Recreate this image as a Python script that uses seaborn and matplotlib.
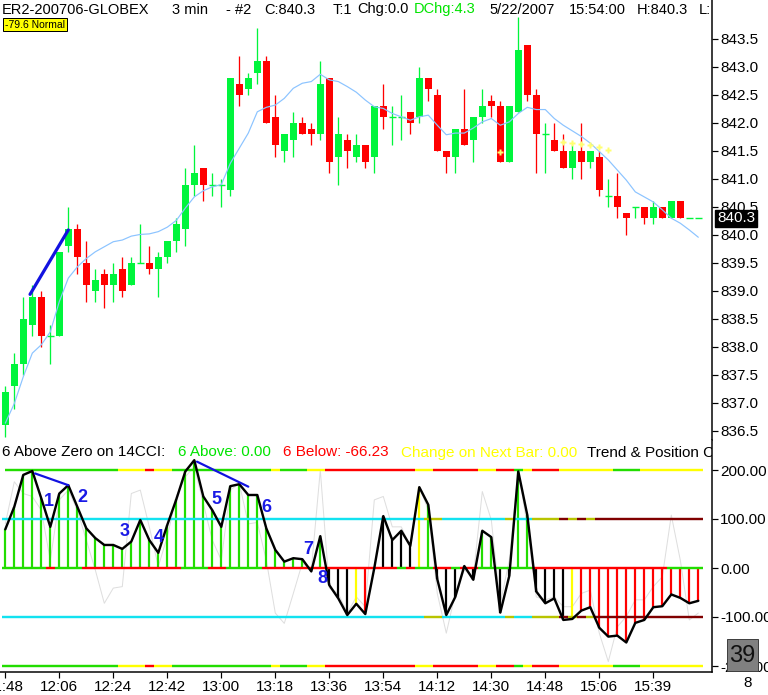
import numpy as np
import pandas as pd
import matplotlib
matplotlib.use("Agg")
import matplotlib.pyplot as plt
import seaborn as sns
from matplotlib.collections import LineCollection
from matplotlib.patches import Rectangle

# ---------------- data ----------------
time_labels = ["11:48", "12:06", "12:24", "12:42", "13:00", "13:18", "13:36",
               "13:54", "14:12", "14:30", "14:48", "15:06", "15:39"]
tick_bars = [0, 6, 12, 18, 24, 30, 36, 42, 48, 54, 60, 66, 72]

opens = [836.6, 837.3, 837.7, 838.4, 838.9, 838.2, 838.2, 839.8, 840.1, 839.5,
         839.0, 839.3, 839.1, 839.4, 839.1, 839.5, 839.5, 839.4, 839.6, 839.9,
         840.1, 840.9, 841.2, 840.9, 840.9, 840.8, 842.7, 842.6, 842.9, 843.1,
         842.1, 841.5, 841.7, 842.0, 841.9, 841.8, 842.8, 841.4, 841.7, 841.4,
         841.6, 841.4, 842.3, 842.1, 842.1, 842.2, 842.1, 842.8, 842.5, 841.5,
         841.4, 841.9, 841.7, 842.1, 842.4, 842.3, 841.3, 842.2, 843.4, 842.5,
         841.8, 841.7, 841.5, 841.2, 841.5, 841.3, 841.4, 840.7, 840.7, 840.4,
         840.5, 840.5, 840.3, 840.5, 840.3, 840.6, 840.3, 840.3]
highs = [837.3, 837.9, 838.9, 839.1, 839.0, 838.4, 839.7, 840.5, 840.2, 839.9,
         839.4, 839.4, 839.5, 839.6, 839.6, 840.2, 839.8, 839.7, 839.9, 840.3,
         841.2, 841.6, 841.2, 841.1, 841.0, 842.8, 843.2, 842.9, 843.7, 843.2,
         842.5, 841.8, 842.2, 842.1, 842.0, 843.1, 842.8, 842.1, 841.8, 841.8,
         841.6, 842.3, 842.7, 842.3, 842.5, 842.2, 843.0, 842.8, 842.6, 841.5,
         841.9, 842.6, 842.1, 842.6, 842.5, 842.4, 842.3, 843.9, 843.4, 842.6,
         842.0, 842.0, 841.8, 841.6, 842.0, 841.5, 841.5, 841.0, 841.1, 840.4,
         840.5, 840.5, 840.6, 840.5, 840.6, 840.6, 840.3, 840.3]
lows = [836.4, 836.9, 837.5, 838.2, 838.0, 837.7, 838.2, 839.7, 839.3, 838.8,
        838.8, 838.7, 838.8, 838.9, 839.1, 839.5, 839.3, 838.9, 839.5, 839.7,
        839.8, 840.7, 840.6, 840.7, 840.5, 840.7, 842.3, 842.5, 842.7, 842.0,
        841.4, 841.3, 841.4, 841.8, 841.6, 841.7, 841.1, 840.9, 841.2, 841.3,
        841.2, 841.1, 841.9, 841.6, 841.7, 841.8, 842.0, 842.4, 841.5, 841.1,
        841.1, 841.6, 841.3, 842.0, 842.1, 841.3, 841.3, 842.2, 842.4, 841.1,
        841.1, 841.5, 841.2, 841.0, 841.0, 841.2, 840.7, 840.5, 840.3, 840.0,
        840.3, 840.2, 840.2, 840.3, 840.3, 840.3, 840.3, 840.3]
closes = [837.2, 837.7, 838.5, 838.9, 838.2, 838.2, 839.7, 840.1, 839.6, 839.1,
          839.2, 839.1, 839.3, 839.0, 839.5, 839.5, 839.4, 839.6, 839.9, 840.2,
          840.9, 841.1, 840.9, 840.9, 840.9, 842.8, 842.5, 842.8, 843.1, 842.0,
          841.6, 841.8, 842.0, 841.8, 841.8, 842.7, 841.3, 841.8, 841.5, 841.6,
          841.3, 842.3, 842.1, 842.1, 842.1, 842.0, 842.8, 842.6, 841.5, 841.4,
          841.9, 841.6, 842.1, 842.3, 842.3, 841.3, 842.3, 843.3, 842.5, 841.8,
          841.8, 841.5, 841.2, 841.5, 841.3, 841.5, 840.8, 840.7, 840.5, 840.3,
          840.5, 840.3, 840.5, 840.3, 840.6, 840.3, 840.3, 840.3]
moving_avg = [836.64, 836.99, 837.47, 837.89, 838.04, 838.27, 838.81, 839.23, 839.43, 839.58,
              839.70, 839.79, 839.88, 839.91, 839.98, 840.01, 840.02, 840.06, 840.14, 840.26,
              840.48, 840.68, 840.79, 840.86, 840.90, 841.28, 841.55, 841.82, 842.20, 842.28,
              842.32, 842.44, 842.62, 842.71, 842.74, 842.87, 842.77, 842.74, 842.65, 842.55,
              842.41, 842.29, 842.26, 842.17, 842.11, 842.05, 842.11, 842.14, 841.96, 841.79,
              841.82, 841.82, 841.91, 842.02, 842.08, 841.96, 842.02, 842.17, 842.28, 842.24,
              842.24, 842.08, 841.96, 841.86, 841.76, 841.64, 841.49, 841.34, 841.16, 840.98,
              840.77, 840.68, 840.59, 840.45, 840.30, 840.21, 840.09, 839.96]
cci14 = [79, 125, 190, 198, 142, 84, 152, 169, 125, 81,
         61, 47, 47, 39, 54, 98, 57, 31, 88, 140,
         197, 220, 146, 118, 84, 167, 171, 149, 149, 81,
         37, 13, 20, 18, -7, 65, -35, -62, -96, -73,
         -94, 0, 106, 57, 76, 45, 165, 129, -23, -96,
         -59, 4, -24, 76, 63, -91, -16, 197, 108, -48,
         -72, -62, -106, -104, -87, -80, -122, -140, -138, -152,
         -112, -106, -80, -78, -54, -61, -72, -67]
cci6 = [90, 176, 152, 146, 118, 16, 139, 159, 118, 57,
        -4, -72, -41, -38, 152, 159, 84, 3, 64, 146,
        186, 207, 132, 57, 16, 159, 173, 90, 93, 16,
        -92, -113, -52, 10, -4, 200, -41, -52, -92, -59,
        -79, 139, 146, 84, 84, 44, 166, 118, -52, -133,
        -52, -4, -18, 156, 98, -72, 16, 200, 84, -59,
        -65, -59, -79, -79, -52, -45, -133, -191, -120, -99,
        -65, -65, -38, -18, 108, 16, -106, -92]
hist_codes = "g" * 34 + "k" + "g" + "kkk" + "y" + "r" + "kkkkk" + "y" + "g" + "kkkkk" + "gg" + "kk" + "gg" + "kkkk" + "y" + "r" * 14
band200_codes = ("g" * 13 + "yyy" + "r" + "yy" + "g" * 11 + "y" + "ggg" + "yy" + "r" * 10 + "yy"
                 + "rrrrr" + "yy" + "rr" + "g" + "y" + "rrr" + "y" * 6 + "ggg" + "y" * 7)
zero_codes = ("ggggg" + "r" + "ggg" + "r" * 11 + "ggg" + "rr" + "gggg" + "r" * 15 + "g" + "r"
              + "gg" + "rr" + "g" + "rr" + "g" * 6 + "r" * 15 + "gggg")
band100_codes = "c" * 47 + "oo" + "c" * 7 + "o" + "cc" + "ooo" + "d" + "o" + "d" + "o" + "d" * 12
price_ticks = [836.5, 837.0, 837.5, 838.0, 838.5, 839.0, 839.5, 840.0,
               840.5, 841.0, 841.5, 842.0, 842.5, 843.0, 843.5]
cci_ticks = [200, 100, 0, -100, -200]
wave_labels = ["1", "2", "3", "4", "5", "6", "7", "8"]
wave_pos = [(4.8, 135), (8.6, 144), (13.3, 74), (17.0, 63), (23.5, 139), (29.0, 123), (33.7, 38), (35.2, -21)]
header_tokens = [("ER2-200706-GLOBEX", 2, "k"), ("3 min", 172, "k"), ("- #2", 226, "k"),
                 ("C:840.3", 264, "k"), ("T:1", 333, "k"), ("Chg:0.0", 357, "k"),
                 ("DChg:4.3", 414, "hg"), ("5/22/2007", 489, "k"), ("15:54:00", 569, "k"),
                 ("H:840.3", 637, "k"), ("L:", 699, "k")]
cci_title_tokens = [("6 Above Zero on 14CCI:", 2, "k"), ("6 Above: 0.00", 178, "hg"),
                    ("6 Below: -66.23", 283, "r"), ("Change on Next Bar: 0.00", 401, "y"),
                    ("Trend & Position Change", 587, "k")]
signal_bars = [55, 62, 63, 64, 65, 66, 67]
signal_vals = [841.48, 841.66, 841.64, 841.62, 841.60, 841.57, 841.51]

# ---------------- style ----------------
sns.set_theme(style="white")
plt.rcParams["font.family"] = ["Liberation Sans", "DejaVu Sans"]

W, H, DPI = 768, 695, 100
def pt(px):
    return px * 72.0 / DPI
def fy(y):
    return 1 - y / H

COL = {"g": "#22dd00", "y": "#ffff00", "r": "#ff0000", "k": "#000000",
       "c": "#12e2f0", "o": "#b8c400", "d": "#800000", "hg": "#00e400"}
CANDLE_UP = "#00f53c"
CANDLE_DN = "#ff0000"

fig = plt.figure(figsize=(W / DPI, H / DPI), dpi=DPI)
fig.patch.set_facecolor("white")

x_left = -5.3 / 9.0
x_right = (712 - 5.3) / 9.0
ax_p = fig.add_axes([0, fy(440), 712 / W, 440 / H])
ax_c = fig.add_axes([0, fy(672), 712 / W, 232 / H])

n = len(closes)
xs = np.arange(n)
df = pd.DataFrame({"bar": xs, "open": opens, "high": highs, "low": lows, "close": closes,
                   "ma": moving_avg, "cci": cci14, "cci6": cci6})

# ---------------- price panel ----------------
up = df["close"] >= df["open"]
cols = np.where(up, CANDLE_UP, CANDLE_DN)
ax_p.vlines(df["bar"], df["low"], df["high"], colors=cols, lw=pt(1.3), zorder=2)
doji = (df["close"] - df["open"]).abs() < 0.05
body = df[~doji]
ax_p.bar(body["bar"], body["close"] - body["open"], bottom=body["open"], width=0.78,
         color=np.where(body["close"] >= body["open"], CANDLE_UP, CANDLE_DN), lw=0, zorder=3)
dj = df[doji]
ax_p.hlines(dj["close"], dj["bar"] - 0.39, dj["bar"] + 0.39, colors=CANDLE_UP, lw=pt(1.4), zorder=3)
sns.lineplot(data=df, x="bar", y="ma", ax=ax_p, color="#8cc4ff", lw=pt(1.2), zorder=4)
ax_p.plot(signal_bars, signal_vals, ls="none", marker="P", ms=4.5, mec="none", color="#ffff70", zorder=5)
ax_p.plot([2.75, 7.0], [838.94, 840.09], color="#1212e0", lw=pt(3.2), zorder=6, solid_capstyle="round")

ax_p.set_xlim(x_left, x_right)
ax_p.set_ylim(840 - (440 - 235) / 56.0, 840 + 235 / 56.0)
ax_p.set_xticks([])
ax_p.yaxis.tick_right()
ax_p.set_yticks(price_ticks)
ax_p.set_yticklabels([f"{v:.1f}" for v in price_ticks])
ax_p.set_xlabel("")
ax_p.set_ylabel("")
for s in ["top", "left", "bottom"]:
    ax_p.spines[s].set_visible(False)
ax_p.spines["right"].set_color("black")
ax_p.spines["right"].set_linewidth(pt(1.5))
ax_p.tick_params(axis="y", direction="out", length=4, width=pt(1.2), pad=2,
                 labelsize=11, colors="black", right=True, left=False)
ax_p.set_facecolor("white")

for txt, xp, c in header_tokens:
    ax_p.text(xp / W, fy(13.5), txt, transform=fig.transFigure, fontsize=10.5,
              color=COL[c], ha="left", va="baseline", clip_on=True)

# ---------------- CCI panel ----------------
sns.lineplot(data=df, x="bar", y="cci6", ax=ax_c, color="#dedede", lw=pt(1.0), zorder=1)

def band(level, codes, start):
    segs, cs = [], []
    for i, code in enumerate(codes):
        a = max(i - 0.5, start)
        b = min(i + 0.5, n - 0.5)
        segs.append([(a, level), (b, level)])
        cs.append(COL[code])
    return LineCollection(segs, colors=cs, linewidths=pt(2.4), zorder=4, capstyle="butt")

ax_c.add_collection(band(200, band200_codes, 0.0))
ax_c.add_collection(band(-200, band200_codes, -0.4))
ax_c.add_collection(band(0, zero_codes, -0.4))
ax_c.add_collection(band(100, band100_codes, -0.4))
ax_c.add_collection(band(-100, band100_codes, -0.4))

ax_c.vlines(df["bar"], 0, df["cci"], colors=[COL[c] for c in hist_codes], lw=pt(2.2), zorder=3)
sns.lineplot(data=df, x="bar", y="cci", ax=ax_c, color="black", lw=pt(2.4), zorder=5)

ax_c.plot([3.3, 7.0], [193, 169], color="#1212e0", lw=pt(2.2), zorder=6)
ax_c.plot([21.3, 27.0], [217, 166], color="#1212e0", lw=pt(2.2), zorder=6)
for lab, (bx, by) in zip(wave_labels, wave_pos):
    ax_c.text(bx, by, lab, color="#1a1ae6", fontsize=13, fontweight="bold",
              ha="center", va="center", zorder=7)

ax_c.set_xlim(x_left, x_right)
ax_c.set_ylim((568 - 672) / 0.49, (568 - 440) / 0.49)
ax_c.yaxis.tick_right()
ax_c.set_yticks(cci_ticks)
ax_c.set_yticklabels([f"{v:.2f}" for v in cci_ticks])
ax_c.set_xticks(tick_bars)
ax_c.set_xticklabels(time_labels)
ax_c.set_xlabel("")
ax_c.set_ylabel("")
for s in ["top", "left"]:
    ax_c.spines[s].set_visible(False)
for s in ["right", "bottom"]:
    ax_c.spines[s].set_color("black")
    ax_c.spines[s].set_linewidth(pt(1.5))
ax_c.tick_params(axis="y", direction="out", length=4, width=pt(1.2), pad=2,
                 labelsize=11, colors="black", right=True, left=False)
ax_c.tick_params(axis="x", direction="out", length=4, width=pt(1.2), pad=2,
                 labelsize=11, colors="black", bottom=True)
ax_c.set_facecolor("white")

for txt, xp, c in cci_title_tokens:
    ax_c.text(xp / W, fy(456.5), txt, transform=fig.transFigure, fontsize=11,
              color=COL[c], ha="left", va="baseline", clip_on=True)

# ---------------- overlays ----------------
fig.text(748 / W, fy(683), "8", fontsize=11, color="black", ha="center", va="center")
fig.text(717 / W, fy(218.5), "840.3", fontsize=11, color="white", ha="left", va="center",
         bbox=dict(boxstyle="square,pad=0.12", facecolor="black", edgecolor="black"))
fig.patches.append(Rectangle((726.5 / W, fy(671)), 31 / W, 32 / H, transform=fig.transFigure,
                             facecolor="#808080", edgecolor="#404040", lw=pt(1)))
fig.text(742 / W, fy(656), "39", fontsize=17, color="#111111", ha="center", va="center", zorder=4)
fig.patches.append(Rectangle((2.5 / W, fy(30.5)), 64.5 / W, 12.5 / H, transform=fig.transFigure,
                             facecolor="#ffff00", edgecolor="black", lw=pt(1)))
fig.text(34.7 / W, fy(24.5), "-79.6 Normal", fontsize=7.5, color="black", ha="center",
         va="center", zorder=4)

fig.savefig("out.png", dpi=DPI, facecolor="white")
